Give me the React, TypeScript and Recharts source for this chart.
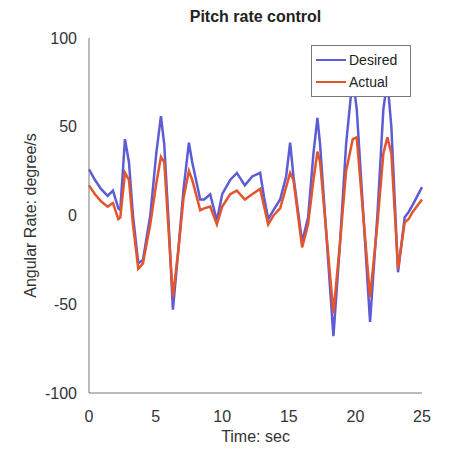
import React from 'react';
import { LineChart, Line, XAxis, YAxis, Label } from 'recharts';

const times = [0, 0.45, 0.9, 1.4, 1.8, 2.2, 2.35, 2.7, 3.0, 3.3, 3.7, 4.05, 4.6, 5.05, 5.4, 5.65, 5.95, 6.3, 6.7, 7.1, 7.5, 7.75, 8.35, 8.65, 9.1, 9.6, 10.0, 10.6, 11.1, 11.7, 12.25, 12.85, 13.15, 13.45, 13.85, 14.35, 14.8, 15.1, 15.35, 16.0, 16.45, 16.85, 17.15, 17.35, 18.35, 18.85, 19.3, 19.8, 20.1, 21.1, 21.65, 22.1, 22.4, 22.7, 23.2, 23.7, 24.0, 24.3, 25.0];
const desired = [26, 20, 15, 11, 14, 4, 3, 43, 30, 0, -27, -25, 0, 35, 56, 40, 0, -53, -20, 15, 41, 30, 9, 9, 12, -3, 12, 20, 24, 17, 22, 24, 10, -2, 3, 9, 22, 41, 22, -15, -1, 35, 55, 40, -68, -15, 40, 78, 60, -60, 0, 60, 76, 50, -32, -1, 2, 6, 16];
const actual = [17, 12, 8, 5, 7, -2, -1, 24, 20, -5, -30, -27, -5, 18, 33, 30, -5, -46, -20, 10, 25, 20, 3, 4, 5, -5, 5, 12, 14, 9, 12, 15, 5, -5, 0, 4, 16, 24, 20, -18, -5, 20, 36, 30, -55, -15, 25, 43, 44, -46, -5, 35, 44, 35, -30, -4, -2, 2, 9];
const xTicks = [0, 5, 10, 15, 20, 25];
const yTicks = [-100, -50, 0, 50, 100];
const seriesNames = ['Desired', 'Actual'];
const seriesColors = ['#5c5cd4', '#e2552e'];

const data = times.map((t, i) => ({ t, desired: desired[i], actual: actual[i] }));

const FONT = '"Liberation Sans", Arial, sans-serif';

export default function App() {
  return (
    <div style={{ position: 'absolute', left: 0, top: 0, width: 458, height: 456, background: '#fff' }}>
      <div style={{ position: 'absolute', left: 89, width: 333, top: 8, textAlign: 'center', fontFamily: FONT, fontWeight: 'bold', fontSize: 16, color: '#222' }}>
        Pitch rate control
      </div>
      <LineChart width={458} height={456} data={data} margin={{ top: 38, right: 36, bottom: 33, left: 39 }}>
        <XAxis
          dataKey="t"
          type="number"
          domain={[0, 25]}
          ticks={xTicks}
          tickLine={false}
          tickMargin={12}
          stroke="#777"
          height={30}
          tick={{ fill: '#333', fontSize: 16, fontFamily: FONT }}
        >
          <Label value="Time: sec" position="center" dy={28} style={{ fill: '#333', fontSize: 16, fontFamily: FONT }} />
        </XAxis>
        <YAxis
          type="number"
          domain={[-100, 100]}
          ticks={yTicks}
          tickLine={false}
          tickMargin={6}
          stroke="#777"
          width={50}
          tick={{ fill: '#333', fontSize: 16, fontFamily: FONT }}
        >
          <Label value="Angular Rate: degree/s" position="center" angle={-90} dx={-34} style={{ fill: '#333', fontSize: 16, fontFamily: FONT, textAnchor: 'middle' }} />
        </YAxis>
        <Line dataKey="desired" name="Desired" stroke={seriesColors[0]} strokeWidth={2.5} dot={false} isAnimationActive={false} />
        <Line dataKey="actual" name="Actual" stroke={seriesColors[1]} strokeWidth={2.5} dot={false} isAnimationActive={false} />
      </LineChart>
      <div style={{ position: 'absolute', left: 311, top: 45, background: '#fff', border: '1px solid #777', padding: '3px 4px', fontFamily: FONT, fontSize: 14, color: '#222', width: 100, boxSizing: 'border-box' }}>
        {seriesNames.map((n, i) => (
          <div key={n} style={{ display: 'flex', alignItems: 'center', height: 22 }}>
            <div style={{ width: 30, height: 2, background: seriesColors[i], marginRight: 3 }} />
            <span>{n}</span>
          </div>
        ))}
      </div>
    </div>
  );
}
